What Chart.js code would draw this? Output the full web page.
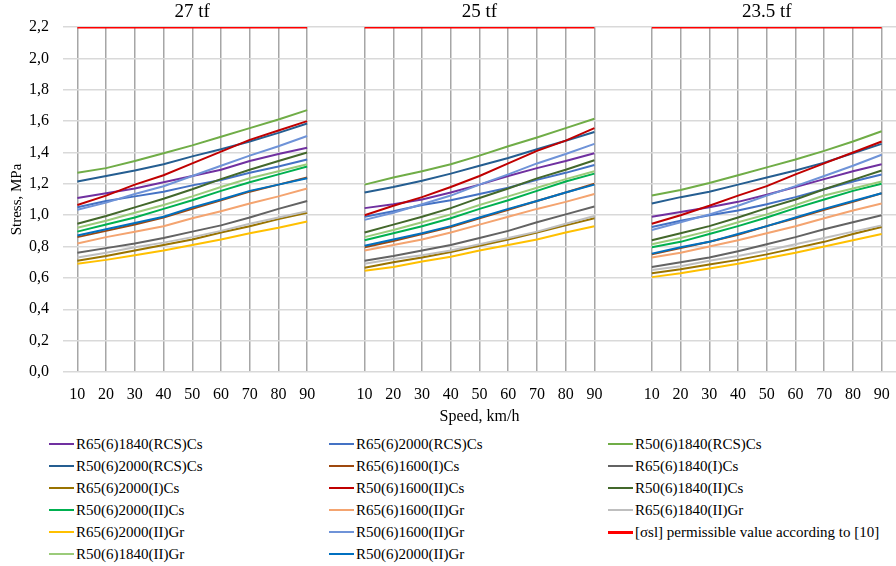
<!DOCTYPE html>
<html>
<head>
<meta charset="utf-8">
<script src="https://cdn.jsdelivr.net/npm/chart.js@4.4.1/dist/chart.umd.min.js"></script>
<style>
  html, body { margin: 0; padding: 0; background: #fff; }
  #wrap { position: relative; width: 896px; height: 566px; background: #fff; font-family: "Liberation Serif", serif; }
  #chart { position: absolute; left: 0; top: 0; }
  #legend { position: absolute; left: 0; top: 433px; width: 896px; }
  .item { position: absolute; height: 22px; display: flex; align-items: center; font-size: 15px; color: #000; white-space: nowrap; }
  .sw { display: inline-block; width: 25px; height: 2px; margin-right: 2px; }
</style>
</head>
<body>
<div id="wrap">
  <canvas id="chart" width="896" height="430"></canvas>
  <div id="legend"></div>
</div>
<script>
// Speeds on each panel, axle loads of the three panels
const speeds = [10, 20, 30, 40, 50, 60, 70, 80, 90];
const axleLoads = ['27 tf', '25 tf', '23.5 tf'];
const limitValue = 2.2;
const limitName = '[σsl] permissible  value  according  to [10]';

// Stress, MPa — one row per axle load (27 tf, 25 tf, 23.5 tf)
const R65_1840_RCS_Cs = [
  [1.11, 1.14, 1.17, 1.21, 1.25, 1.29, 1.345, 1.39, 1.43],
  [1.045, 1.07, 1.10, 1.145, 1.195, 1.25, 1.30, 1.345, 1.395],
  [0.99, 1.02, 1.05, 1.085, 1.13, 1.18, 1.23, 1.28, 1.325]
];
const R65_2000_RCS_Cs = [
  [1.05, 1.09, 1.12, 1.15, 1.19, 1.225, 1.27, 1.31, 1.355],
  [0.99, 1.025, 1.065, 1.095, 1.135, 1.175, 1.225, 1.27, 1.32],
  [0.925, 0.965, 1.00, 1.03, 1.07, 1.115, 1.165, 1.215, 1.26]
];
const R50_1840_RCS_Cs = [
  [1.27, 1.30, 1.345, 1.395, 1.445, 1.50, 1.555, 1.61, 1.67],
  [1.195, 1.24, 1.28, 1.325, 1.38, 1.44, 1.495, 1.555, 1.615],
  [1.125, 1.16, 1.205, 1.255, 1.305, 1.355, 1.41, 1.47, 1.535]
];
const R50_2000_RCS_Cs = [
  [1.215, 1.25, 1.285, 1.325, 1.375, 1.42, 1.47, 1.525, 1.585],
  [1.145, 1.18, 1.22, 1.265, 1.315, 1.365, 1.42, 1.475, 1.53],
  [1.075, 1.115, 1.15, 1.195, 1.24, 1.285, 1.335, 1.395, 1.455]
];
const R65_1600_I_Cs = [
  [0.86, 0.90, 0.94, 0.985, 1.04, 1.095, 1.15, 1.195, 1.24],
  [0.795, 0.835, 0.88, 0.925, 0.98, 1.035, 1.09, 1.145, 1.20],
  [0.75, 0.79, 0.83, 0.875, 0.93, 0.98, 1.035, 1.085, 1.14]
];
const R65_1840_I_Cs = [
  [0.76, 0.79, 0.82, 0.855, 0.895, 0.935, 0.985, 1.04, 1.09],
  [0.71, 0.74, 0.775, 0.81, 0.855, 0.90, 0.955, 1.005, 1.055],
  [0.67, 0.70, 0.73, 0.77, 0.815, 0.86, 0.91, 0.955, 1.00]
];
const R65_2000_I_Cs = [
  [0.71, 0.74, 0.775, 0.81, 0.845, 0.89, 0.93, 0.975, 1.015],
  [0.665, 0.70, 0.73, 0.765, 0.805, 0.845, 0.89, 0.935, 0.98],
  [0.63, 0.655, 0.685, 0.715, 0.75, 0.79, 0.83, 0.88, 0.925]
];
const R50_1600_II_Cs = [
  [1.065, 1.125, 1.195, 1.255, 1.33, 1.405, 1.48, 1.54, 1.60],
  [1.00, 1.06, 1.115, 1.18, 1.25, 1.33, 1.41, 1.475, 1.555],
  [0.945, 1.00, 1.06, 1.125, 1.185, 1.26, 1.33, 1.40, 1.47]
];
const R50_1840_II_Cs = [
  [0.945, 0.995, 1.05, 1.105, 1.165, 1.23, 1.29, 1.345, 1.40],
  [0.89, 0.94, 0.99, 1.045, 1.11, 1.17, 1.235, 1.29, 1.35],
  [0.84, 0.885, 0.93, 0.985, 1.045, 1.10, 1.165, 1.225, 1.285]
];
const R50_2000_II_Cs = [
  [0.895, 0.94, 0.985, 1.04, 1.095, 1.155, 1.21, 1.26, 1.31],
  [0.84, 0.885, 0.93, 0.98, 1.04, 1.095, 1.155, 1.215, 1.265],
  [0.795, 0.83, 0.88, 0.93, 0.985, 1.045, 1.10, 1.155, 1.20]
];
const R65_1600_II_Gr = [
  [0.82, 0.86, 0.895, 0.93, 0.98, 1.025, 1.075, 1.12, 1.17],
  [0.775, 0.81, 0.845, 0.89, 0.94, 0.99, 1.04, 1.085, 1.135],
  [0.73, 0.76, 0.80, 0.84, 0.885, 0.93, 0.98, 1.03, 1.075]
];
const R65_1840_II_Gr = [
  [0.73, 0.76, 0.795, 0.825, 0.86, 0.90, 0.945, 0.985, 1.025],
  [0.69, 0.72, 0.745, 0.775, 0.815, 0.855, 0.895, 0.945, 0.995],
  [0.65, 0.675, 0.71, 0.74, 0.775, 0.815, 0.855, 0.895, 0.935]
];
const R65_2000_II_Gr = [
  [0.69, 0.715, 0.745, 0.775, 0.81, 0.845, 0.885, 0.92, 0.96],
  [0.645, 0.67, 0.705, 0.735, 0.775, 0.81, 0.845, 0.89, 0.93],
  [0.605, 0.63, 0.66, 0.69, 0.725, 0.76, 0.80, 0.84, 0.88]
];
const R50_1600_II_Gr = [
  [1.035, 1.08, 1.135, 1.185, 1.25, 1.315, 1.38, 1.44, 1.505],
  [0.97, 1.015, 1.07, 1.125, 1.195, 1.26, 1.33, 1.39, 1.455],
  [0.905, 0.955, 1.005, 1.06, 1.125, 1.185, 1.25, 1.315, 1.385]
];
const R50_1840_II_Gr = [
  [0.92, 0.965, 1.015, 1.065, 1.12, 1.18, 1.235, 1.28, 1.325],
  [0.86, 0.905, 0.955, 1.005, 1.065, 1.12, 1.175, 1.23, 1.28],
  [0.815, 0.855, 0.90, 0.955, 1.005, 1.065, 1.125, 1.17, 1.215]
];
const R50_2000_II_Gr = [
  [0.87, 0.91, 0.95, 0.99, 1.05, 1.10, 1.155, 1.195, 1.235],
  [0.805, 0.845, 0.885, 0.93, 0.985, 1.04, 1.09, 1.145, 1.195],
  [0.755, 0.795, 0.83, 0.88, 0.93, 0.985, 1.04, 1.09, 1.14]
];

// Series in legend order (row by row, three columns)
const seriesNames = [
  'R65(6)1840(RCS)Cs', 'R65(6)2000(RCS)Cs', 'R50(6)1840(RCS)Cs',
  'R50(6)2000(RCS)Cs', 'R65(6)1600(I)Cs', 'R65(6)1840(I)Cs',
  'R65(6)2000(I)Cs', 'R50(6)1600(II)Cs', 'R50(6)1840(II)Cs',
  'R50(6)2000(II)Cs', 'R65(6)1600(II)Gr', 'R65(6)1840(II)Gr',
  'R65(6)2000(II)Gr', 'R50(6)1600(II)Gr', limitName,
  'R50(6)1840(II)Gr', 'R50(6)2000(II)Gr'
];
const seriesValues = [
  R65_1840_RCS_Cs, R65_2000_RCS_Cs, R50_1840_RCS_Cs,
  R50_2000_RCS_Cs, R65_1600_I_Cs, R65_1840_I_Cs,
  R65_2000_I_Cs, R50_1600_II_Cs, R50_1840_II_Cs,
  R50_2000_II_Cs, R65_1600_II_Gr, R65_1840_II_Gr,
  R65_2000_II_Gr, R50_1600_II_Gr, null,
  R50_1840_II_Gr, R50_2000_II_Gr
];
const seriesColors = [
  '#7030A0', '#4472C4', '#70AD47',
  '#255E91', '#9E480E', '#636363',
  '#997300', '#C00000', '#43682B',
  '#00B050', '#F4A470', '#BFBFBF',
  '#FFC000', '#6F93D8', '#FF0000',
  '#9BCB7A', '#0070C0'
];

// One category axis for all three panels, with an empty slot between panels
const xLabels = [];
const topLabels = [];
const gapIndex = new Set();
axleLoads.forEach((load, p) => {
  speeds.forEach((s, i) => {
    xLabels.push(String(s));
    topLabels.push(i === 4 ? load : '');
  });
  if (p < axleLoads.length - 1) {
    gapIndex.add(xLabels.length);
    xLabels.push('');
    topLabels.push('');
  }
});

function joinPanels(rows) {
  const out = [];
  rows.forEach((row, p) => {
    row.forEach(v => out.push(v));
    if (p < rows.length - 1) out.push(null);
  });
  return out;
}
const limitRows = axleLoads.map(() => speeds.map(() => limitValue));

const datasets = seriesNames.map((name, i) => {
  const isLimit = seriesValues[i] === null;
  return {
    label: name,
    data: joinPanels(isLimit ? limitRows : seriesValues[i]),
    borderColor: seriesColors[i],
    backgroundColor: seriesColors[i],
    borderWidth: isLimit ? 3 : 2,
    pointRadius: 0,
    tension: 0,
    fill: false,
    spanGaps: false,
    order: -i
  };
});

const serif = '"Liberation Serif", serif';

new Chart(document.getElementById('chart'), {
  type: 'line',
  data: { labels: xLabels, datasets },
  options: {
    responsive: false,
    animation: false,
    devicePixelRatio: 1,
    layout: { padding: { top: 0, right: 0, left: 0, bottom: 2 } },
    plugins: { legend: { display: false }, tooltip: { enabled: false } },
    scales: {
      x: {
        type: 'category',
        offset: true,
        border: { display: false },
        afterFit: s => { s.height = 56; },
        grid: {
          offset: false,
          drawTicks: true,
          tickLength: 9,
          tickColor: 'rgba(0,0,0,0)',
          lineWidth: 1.5,
          color: c => gapIndex.has(c.index) ? 'rgba(0,0,0,0)' : '#A6A6A6'
        },
        ticks: {
          autoSkip: false, maxRotation: 0, padding: 4,
          color: '#000', font: { family: serif, size: 16 }
        },
        title: {
          display: true, text: 'Speed, km/h', color: '#000',
          font: { family: serif, size: 16 }, padding: { top: 0, bottom: 2 }
        }
      },
      xTop: {
        type: 'category',
        position: 'top',
        labels: topLabels,
        offset: true,
        border: { display: false },
        afterFit: s => { s.height = 27; },
        grid: { display: false, drawTicks: false },
        ticks: {
          autoSkip: false, maxRotation: 0, padding: 4,
          color: '#000', font: { family: serif, size: 19 }
        }
      },
      y: {
        min: 0,
        max: 2.2,
        border: { display: false },
        afterFit: s => { s.width = 63; },
        grid: { color: '#D9D9D9', lineWidth: 1.5, drawTicks: false },
        ticks: {
          stepSize: 0.2, padding: 14, color: '#000',
          font: { family: serif, size: 16 },
          callback: v => Number(v).toFixed(1).replace('.', ',')
        },
        title: {
          display: true, text: 'Stress, MPa', color: '#000',
          font: { family: serif, size: 15 }, padding: { top: 8, bottom: 0 }
        }
      }
    }
  }
});

// Legend laid out as a three-column table under the chart
const legend = document.getElementById('legend');
const colLeft = [49, 329, 608];
seriesNames.forEach((name, i) => {
  const row = Math.floor(i / 3), col = i % 3;
  const item = document.createElement('div');
  item.className = 'item';
  item.style.left = colLeft[col] + 'px';
  item.style.top = (row * 22) + 'px';
  const sw = document.createElement('span');
  sw.className = 'sw';
  sw.style.background = seriesColors[i];
  if (seriesValues[i] === null) sw.style.height = '3px';
  const txt = document.createElement('span');
  txt.textContent = name;
  item.appendChild(sw);
  item.appendChild(txt);
  legend.appendChild(item);
});
</script>
</body>
</html>
